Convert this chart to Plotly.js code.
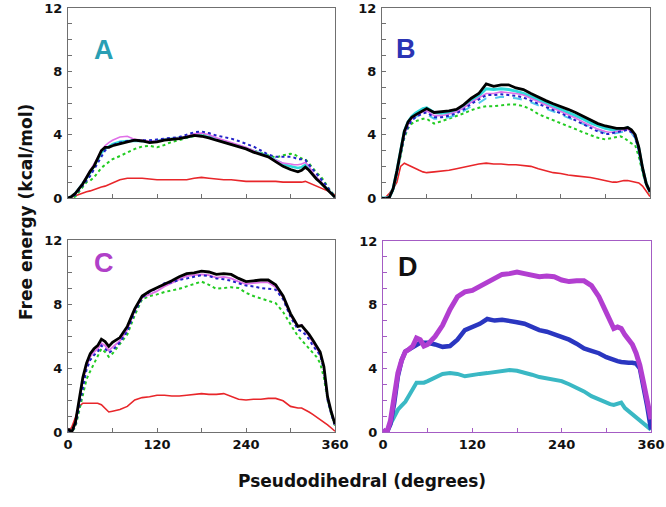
<!DOCTYPE html>
<html>
<head>
<meta charset="utf-8">
<script src="https://cdn.plot.ly/plotly-3.0.1.min.js"></script>
<style>html,body{margin:0;padding:0;background:#fff;}#chart{width:666px;height:507px;}</style>
</head>
<body>
<div id="chart"></div>
<script>
// Pseudodihedral angle grid (degrees)
const angles = [0,5,10,15,20,25,30,35,40,45,50,55,60,70,80,90,100,110,120,130,140,150,160,170,180,190,200,210,220,230,240,250,260,270,280,290,300,305,310,315,320,325,330,335,340,345,350,355,360];

// Panel A
const aBlack   = [0,0.1,0.3,0.6,0.9,1.3,1.7,2.0,2.5,3.0,3.2,3.2,3.3,3.45,3.55,3.65,3.6,3.5,3.55,3.65,3.7,3.75,3.85,3.95,3.9,3.8,3.65,3.5,3.35,3.25,3.1,2.9,2.75,2.6,2.3,2.0,1.8,1.7,1.65,1.75,1.95,1.75,1.45,1.2,1.0,0.75,0.5,0.25,0.05];
const aBlue    = [0,0.05,0.2,0.5,0.8,1.1,1.4,1.8,2.2,2.6,3.0,3.2,3.35,3.5,3.6,3.65,3.65,3.65,3.7,3.75,3.8,3.85,4.0,4.15,4.2,4.1,3.95,3.85,3.75,3.6,3.45,3.25,3.0,2.75,2.6,2.6,2.6,2.55,2.45,2.45,2.4,2.1,1.8,1.5,1.25,1.0,0.7,0.4,0.05];
const aMagenta = [0,0.1,0.3,0.6,0.95,1.35,1.75,2.1,2.55,3.0,3.3,3.5,3.65,3.85,3.9,3.7,3.65,3.6,3.6,3.7,3.75,3.8,3.9,4.05,4.1,4.0,3.8,3.65,3.5,3.35,3.2,3.0,2.8,2.6,2.35,2.2,2.15,2.1,2.1,2.15,2.25,2.0,1.6,1.3,1.1,0.8,0.55,0.3,0.05];
const aCyan    = [0,0.1,0.3,0.6,0.9,1.25,1.6,2.0,2.4,2.85,3.1,3.25,3.4,3.55,3.6,3.6,3.6,3.55,3.6,3.7,3.75,3.8,3.85,3.95,3.95,3.85,3.7,3.55,3.4,3.3,3.15,2.95,2.8,2.65,2.4,2.15,2.0,1.95,1.9,1.95,2.1,1.85,1.5,1.25,1.05,0.8,0.55,0.3,0.05];
const aGreen   = [0,0,0.1,0.4,0.75,1.0,1.1,1.3,1.6,1.9,2.1,2.3,2.45,2.65,2.9,3.1,3.25,3.3,3.2,3.35,3.55,3.65,3.8,3.9,4.0,3.9,3.75,3.6,3.45,3.3,3.15,3.0,2.85,2.7,2.55,2.7,2.8,2.75,2.6,2.5,2.45,2.2,1.9,1.6,1.4,1.1,0.7,0.4,0.1];
const aRed     = [0,0.05,0.15,0.25,0.3,0.4,0.45,0.55,0.6,0.7,0.75,0.85,0.9,1.15,1.25,1.25,1.25,1.2,1.15,1.15,1.15,1.15,1.15,1.25,1.3,1.25,1.2,1.15,1.15,1.1,1.05,1.05,1.05,1.05,1.05,1.0,1.0,1.0,1.0,1.0,1.05,0.95,0.9,0.8,0.7,0.55,0.45,0.3,0.2];

// Panel B
const bBlack   = [0,-0.05,0.05,0.6,1.7,3.0,4.2,4.8,5.1,5.25,5.4,5.55,5.65,5.4,5.45,5.5,5.6,5.9,6.3,6.6,7.2,7.05,7.15,7.15,6.95,6.85,6.6,6.35,6.15,5.95,5.8,5.6,5.4,5.15,4.9,4.7,4.55,4.5,4.45,4.4,4.4,4.4,4.45,4.3,4.0,3.2,1.9,0.9,0.4];
const bCyan    = [0,0,0.05,0.6,1.7,3.0,4.2,4.8,5.15,5.35,5.5,5.65,5.7,5.4,5.35,5.4,5.5,5.8,6.2,6.45,6.9,6.85,6.9,6.85,6.75,6.6,6.4,6.2,6.0,5.8,5.6,5.4,5.2,5.0,4.75,4.55,4.4,4.35,4.3,4.3,4.3,4.35,4.45,4.25,3.95,3.1,1.85,0.9,0.4];
const bCyan2   = [0,0,0.05,0.55,1.6,2.9,4.0,4.6,4.9,5.1,5.25,5.3,5.3,5.0,5.0,5.1,5.25,5.5,5.8,6.0,6.3,6.3,6.4,6.35,6.3,6.2,6.05,5.85,5.65,5.45,5.25,5.05,4.85,4.65,4.45,4.25,4.1,4.05,4.05,4.1,4.15,4.2,4.25,4.1,3.8,3.0,1.8,0.85,0.35];
const bMagenta = [0,0,0.05,0.6,1.65,2.9,4.0,4.6,5.0,5.2,5.35,5.45,5.5,5.2,5.2,5.3,5.45,5.7,6.05,6.3,6.6,6.6,6.7,6.65,6.6,6.5,6.3,6.1,5.9,5.7,5.5,5.3,5.05,4.8,4.55,4.35,4.2,4.15,4.15,4.2,4.25,4.3,4.35,4.2,3.9,3.05,1.85,0.85,0.35];
const bBlue    = [0,0,0.05,0.55,1.6,2.85,3.95,4.5,4.9,5.1,5.25,5.35,5.4,5.1,5.1,5.2,5.35,5.6,5.95,6.2,6.5,6.5,6.55,6.5,6.45,6.35,6.15,5.95,5.75,5.55,5.35,5.15,4.9,4.65,4.4,4.2,4.05,4.05,4.1,4.15,4.2,4.25,4.3,4.15,3.85,3.0,1.8,0.85,0.35];
const bGreen   = [0,0,0.05,0.5,1.5,2.7,3.8,4.4,4.7,4.85,4.95,5.0,5.0,4.7,4.85,5.0,5.15,5.35,5.55,5.7,5.8,5.8,5.85,5.9,5.9,5.8,5.6,5.3,5.1,4.9,4.75,4.55,4.35,4.15,4.0,3.8,3.7,3.75,3.8,3.85,3.9,3.8,3.6,3.45,3.35,2.6,1.6,0.8,0.3];
const bRed     = [0,0.05,0.3,0.6,1.0,2.0,2.2,2.1,1.95,1.85,1.75,1.65,1.6,1.65,1.7,1.75,1.85,1.95,2.05,2.15,2.2,2.15,2.15,2.1,2.1,2.05,2.0,1.85,1.7,1.6,1.55,1.45,1.4,1.35,1.3,1.2,1.1,1.05,1.0,1.0,1.05,1.1,1.1,1.05,1.0,0.95,0.75,0.45,0.1];

// Panel C
const cBlack   = [0.2,0.0,0.6,2.0,3.4,4.3,4.9,5.2,5.4,5.8,5.65,5.35,5.6,5.9,6.6,7.7,8.5,8.8,9.0,9.2,9.45,9.7,9.9,9.95,10.05,10.0,9.85,9.9,9.85,9.6,9.4,9.45,9.5,9.5,9.2,8.5,7.4,7.0,6.6,6.65,6.4,6.1,5.75,5.4,5.0,4.1,2.2,1.25,0.5];
const cMagenta = [0.2,0,0.55,1.9,3.2,4.1,4.7,5.0,5.2,5.55,5.4,5.1,5.3,5.7,6.4,7.6,8.4,8.6,8.8,9.1,9.3,9.55,9.75,9.8,9.85,9.8,9.65,9.7,9.6,9.4,9.25,9.3,9.35,9.35,9.05,8.4,7.3,6.9,6.6,6.7,6.3,6.0,5.6,5.25,4.85,4.0,2.1,1.2,0.45];
const cBlue    = [0.1,0,0.4,1.6,2.9,3.9,4.5,4.8,5.0,5.4,5.2,4.95,5.1,5.6,6.3,7.5,8.4,8.75,9.0,9.3,9.35,9.5,9.6,9.7,9.8,9.75,9.6,9.55,9.45,9.3,9.15,9.1,9.0,8.95,8.9,8.3,7.2,6.8,6.4,6.3,6.1,5.8,5.4,5.1,4.8,3.9,2.0,1.1,0.4];
const cGreen   = [0.1,0,0.3,1.3,2.5,3.3,3.8,4.3,4.8,5.2,5.0,4.7,4.9,5.5,6.1,7.3,8.3,8.5,8.6,8.75,8.85,8.95,9.1,9.25,9.4,9.2,8.95,9.0,9.05,9.0,8.7,8.5,8.35,8.2,8.05,7.5,6.7,6.35,6.0,5.75,5.5,5.25,5.0,4.7,4.3,3.4,2.0,1.1,0.4];
const cRed     = [0,0.3,0.9,1.6,1.8,1.8,1.8,1.8,1.8,1.7,1.5,1.25,1.3,1.4,1.6,2.0,2.15,2.2,2.3,2.3,2.25,2.25,2.3,2.35,2.4,2.35,2.35,2.4,2.2,2.05,2.0,2.05,2.05,2.1,2.1,1.95,1.6,1.55,1.5,1.5,1.4,1.25,1.1,0.95,0.8,0.65,0.45,0.25,0.05];

// Panel D
const dMagenta = [0.15,-0.05,0.7,2.2,3.7,4.5,5.05,5.2,5.4,5.9,5.8,5.4,5.5,6.0,6.7,7.7,8.5,8.8,8.9,9.15,9.4,9.65,9.9,9.95,10.05,9.95,9.85,9.75,9.8,9.75,9.55,9.45,9.5,9.5,9.2,8.5,7.5,7.05,6.5,6.6,6.5,6.1,5.8,5.5,4.95,4.2,3.1,2.0,0.8];
const dBlue    = [0.1,-0.05,0.5,1.8,3.5,4.5,5.05,5.2,5.35,5.5,5.6,5.6,5.6,5.5,5.35,5.4,5.8,6.4,6.6,6.8,7.1,7.0,7.05,7.0,6.9,6.8,6.6,6.4,6.3,6.15,6.0,5.8,5.55,5.25,5.1,4.95,4.7,4.6,4.5,4.45,4.4,4.35,4.35,4.35,4.3,4.0,2.85,1.6,0.15];
const dCyan    = [0.1,0,0.5,0.9,1.4,1.65,1.9,2.3,2.65,3.1,3.1,3.1,3.2,3.4,3.65,3.7,3.65,3.5,3.6,3.65,3.7,3.75,3.85,3.9,3.85,3.75,3.6,3.45,3.35,3.25,3.2,3.0,2.8,2.55,2.25,2.05,1.8,1.75,1.7,1.8,1.85,1.5,1.3,1.1,0.9,0.75,0.55,0.35,0.15];

const yTicks = [0,4,8,12];
const xTicks = [0,120,240,360];
const panelLetters = ['A','B','C','D'];

const C_RED='#e8262a', C_GREEN='#22cc22', C_BLUE='#2222c8', C_MAG='#e070e8', C_CYAN='#30dada', C_CYAN2='#55c8ee';

function tr(y, color, width, dash, ax){
  return {x: angles, y: y, type:'scatter', mode:'lines', xaxis:'x'+ax, yaxis:'y'+ax,
          line:{color:color, width:width, dash:dash||'solid'}, showlegend:false, hoverinfo:'skip'};
}
const traces = [
  tr(aRed,C_RED,1.6,null,''), tr(aGreen,C_GREEN,2,'dot',''), tr(aCyan,C_CYAN,2.5,null,''),
  tr(aMagenta,C_MAG,1.6,null,''), tr(aBlue,C_BLUE,2,'dot',''), tr(aBlack,'#000',2.8,null,''),
  tr(bRed,C_RED,1.6,null,'2'), tr(bGreen,C_GREEN,2,'dot','2'), tr(bCyan2,C_CYAN2,2,'dash','2'),
  tr(bCyan,C_CYAN,3,null,'2'), tr(bMagenta,C_MAG,1.6,null,'2'), tr(bBlue,C_BLUE,2,'dot','2'), tr(bBlack,'#000',2.8,null,'2'),
  tr(cRed,C_RED,1.6,null,'3'), tr(cGreen,C_GREEN,2,'dot','3'), tr(cMagenta,C_MAG,1.8,null,'3'),
  tr(cBlue,C_BLUE,2,'dot','3'), tr(cBlack,'#000',2.8,null,'3'),
  tr(dCyan,'#3ab8c4',4,null,'4'), tr(dBlue,'#2a36c0',4.5,null,'4'), tr(dMagenta,'#b23ed0',5,null,'4')
];

const W=666, H=507;
const px = v => v/W, py = v => 1 - v/H;
const tickFont = {family:'DejaVu Sans', size:13, color:'#111', weight:'bold'};
function xax(l, r, showLabels, lc){
  return {domain:[px(l),px(r)], range:[0,360], tickvals:xTicks, ticktext:xTicks.map(String),
    showticklabels:showLabels, ticks:'inside', ticklen:4, tickcolor:lc, showline:true, mirror:true,
    linecolor:lc, linewidth:1, showgrid:false, zeroline:false, tickfont:tickFont, ticklabeloverflow:'allow',
    minor:{tickvals:[60,180,300], ticks:'inside', ticklen:4, tickcolor:lc, showgrid:false}};
}
function yax(t, b, lc){
  return {domain:[py(b),py(t)], range:[0,12], tickvals:yTicks, ticktext:yTicks.map(String),
    ticks:'inside', ticklen:4, tickcolor:lc, showline:true, mirror:true, linecolor:lc, linewidth:1,
    showgrid:false, zeroline:false, tickfont:tickFont, ticklabelstandoff:2, ticklabeloverflow:'allow',
    minor:{dtick:1, ticks:'inside', ticklen:4, tickcolor:lc, showgrid:false}};
}
const GRAY='#707070', PURP='#a45cc4';
const layout = {
  width:W, height:H, margin:{l:0,r:0,t:0,b:0}, paper_bgcolor:'#fff', plot_bgcolor:'#fff',
  showlegend:false,
  xaxis: Object.assign(xax(68,335,false,GRAY),{anchor:'y'}),  yaxis: Object.assign(yax(8,198,GRAY),{anchor:'x'}),
  xaxis2: Object.assign(xax(382,650,false,GRAY),{anchor:'y2'}), yaxis2: Object.assign(yax(8,198,GRAY),{anchor:'x2'}),
  xaxis3: Object.assign(xax(68,335,true,GRAY),{anchor:'y3'}), yaxis3: Object.assign(yax(240,432,GRAY),{anchor:'x3'}),
  xaxis4: Object.assign(xax(383,651,true,PURP),{anchor:'y4'}), yaxis4: Object.assign(yax(241,432,PURP),{anchor:'x4'}),
  annotations: [
    {text:panelLetters[0], x:px(92), y:py(33), xref:'paper', yref:'paper', showarrow:false, font:{family:'Liberation Sans', size:27, color:'#2a9fb4', weight:'bold'}},
    {text:panelLetters[1], x:px(406), y:py(32), xref:'paper', yref:'paper', showarrow:false, font:{family:'Liberation Sans', size:27, color:'#2b34b4', weight:'bold'}},
    {text:panelLetters[2], x:px(92), y:py(263), xref:'paper', yref:'paper', showarrow:false, font:{family:'Liberation Sans', size:27, color:'#b040c8', weight:'bold'}},
    {text:panelLetters[3], x:px(408), y:py(267), xref:'paper', yref:'paper', showarrow:false, font:{family:'Liberation Sans', size:27, color:'#111', weight:'bold'}},
    {text:'Free energy (kcal/mol)', x:px(14), y:py(212), xref:'paper', yref:'paper', showarrow:false, textangle:-90, font:{family:'DejaVu Sans', size:17, color:'#111', weight:'bold'}},
    {text:'Pseudodihedral (degrees)', x:px(362), y:py(493), xref:'paper', yref:'paper', showarrow:false, font:{family:'DejaVu Sans', size:17, color:'#111', weight:'bold'}}
  ]
};
Plotly.newPlot('chart', traces, layout, {displayModeBar:false, staticPlot:true});
</script>
</body>
</html>
